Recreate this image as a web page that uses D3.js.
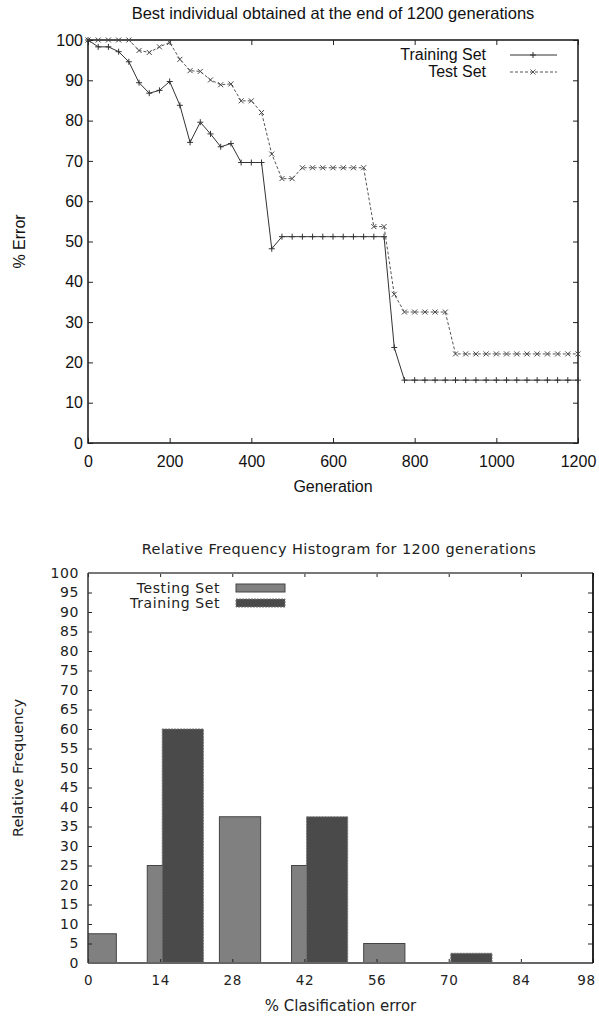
<!DOCTYPE html>
<html>
<head>
<meta charset="utf-8">
<script src="https://cdn.jsdelivr.net/npm/d3@7"></script>
<style>
  body { margin: 0; background: #fff; }
  svg { display: block; }
  .top text { font-family: "Liberation Sans", Arial, sans-serif; fill: #111; }
  .bottom text { font-family: "DejaVu Sans", sans-serif; fill: #222; }
  .axis path.domain { display: none; }
  .axis line { stroke: #222; }
</style>
</head>
<body>
<div id="chart"></div>
<script>

// generations sampled in the run
var generations = [0, 25, 50, 75, 100, 125, 150, 175, 200, 225, 250, 275, 300, 325, 350, 375, 400,
  425, 450, 475, 500, 525, 550, 575, 600, 625, 650, 675, 700, 725, 750, 775, 800, 825, 850, 875,
  900, 925, 950, 975, 1000, 1025, 1050, 1075, 1100, 1125, 1150, 1175, 1200];

var trainingError = [100, 98.3, 98.3, 97.1, 94.6, 89.4, 86.8, 87.5, 89.7, 83.8, 74.6, 79.6, 76.7,
  73.5, 74.3, 69.6, 69.6, 69.6, 48.2, 51.2, 51.2, 51.2, 51.2, 51.2, 51.2, 51.2, 51.2, 51.2, 51.2,
  51.2, 23.7, 15.6, 15.6, 15.6, 15.6, 15.6, 15.6, 15.6, 15.6, 15.6, 15.6, 15.6, 15.6, 15.6, 15.6,
  15.6, 15.6, 15.6, 15.6];

var testError = [100, 100, 100, 100, 100, 97.4, 96.9, 98.3, 99.4, 95.2, 92.4, 92.2, 90.1, 88.9,
  89.1, 84.9, 84.9, 82.0, 71.7, 65.6, 65.6, 68.3, 68.3, 68.3, 68.3, 68.3, 68.3, 68.3, 53.7, 53.7,
  36.9, 32.5, 32.5, 32.5, 32.5, 32.5, 22.1, 22.1, 22.1, 22.1, 22.1, 22.1, 22.1, 22.1, 22.1, 22.1,
  22.1, 22.1, 22.1];

var genTicks = [0, 200, 400, 600, 800, 1000, 1200];
var errorTicks = [0, 10, 20, 30, 40, 50, 60, 70, 80, 90, 100];

// histogram bins (% classification error)
var bins = [0, 14, 28, 42, 56, 70, 84, 98];
var testingFreq = [7.5, 25, 37.5, 25, 5, 0, 0, 0];
var trainingFreq = [0, 60, 0, 37.5, 0, 2.5, 0, 0];
var freqTicks = [0, 5, 10, 15, 20, 25, 30, 35, 40, 45, 50, 55, 60, 65, 70, 75, 80, 85, 90, 95, 100];

var svg = d3.select("#chart").append("svg")
    .attr("width", 599)
    .attr("height", 1016);

makeLineChart();
makeHistogram();

function makeLineChart(){
  var left = 88, right = 578, top = 40, bottom = 443;

  var g = svg.append("g").attr("class", "top");

  var x = d3.scaleLinear().domain([0, 1200]).range([left, right]);
  var y = d3.scaleLinear().domain([0, 100]).range([bottom, top]);

  g.append("text")
      .attr("x", (left + right) / 2)
      .attr("y", 19)
      .attr("text-anchor", "middle")
      .style("font-size", "16.5px")
      .text("Best individual obtained at the end of 1200 generations");

  // ticks point inwards on all four sides
  g.append("g")
      .attr("class", "axis")
      .attr("transform", "translate(0," + bottom + ")")
      .call(d3.axisBottom(x).tickValues(genTicks).tickSize(-5).tickPadding(13).tickFormat(d3.format("d")))
      .selectAll("text").style("font-size", "16px");

  g.append("g")
      .attr("class", "axis")
      .attr("transform", "translate(0," + top + ")")
      .call(d3.axisTop(x).tickValues(genTicks).tickSize(-5).tickFormat(""));

  g.append("g")
      .attr("class", "axis")
      .attr("transform", "translate(" + left + ",0)")
      .call(d3.axisLeft(y).tickValues(errorTicks).tickSize(-5).tickPadding(5))
      .selectAll("text").style("font-size", "16px");

  g.append("g")
      .attr("class", "axis")
      .attr("transform", "translate(" + right + ",0)")
      .call(d3.axisRight(y).tickValues(errorTicks).tickSize(-5).tickFormat(""));

  g.selectAll(".axis text").attr("font-family", null).style("fill", "#111");

  g.append("rect")
      .attr("x", left)
      .attr("y", top)
      .attr("width", right - left)
      .attr("height", bottom - top)
      .attr("fill", "none")
      .attr("stroke", "#222")
      .attr("stroke-width", 1.6);

  g.append("text")
      .attr("transform", "translate(25," + ((top + bottom) / 2) + ") rotate(-90)")
      .attr("text-anchor", "middle")
      .style("font-size", "16px")
      .text("% Error");

  g.append("text")
      .attr("x", (left + right) / 2)
      .attr("y", 492)
      .attr("text-anchor", "middle")
      .style("font-size", "16px")
      .text("Generation");

  var line = d3.line()
      .x(function(d, i){ return x(generations[i]); })
      .y(function(d){ return y(d); });

  g.append("path")
      .datum(testError)
      .attr("d", line)
      .attr("fill", "none")
      .attr("stroke", "#555")
      .attr("stroke-width", 1)
      .attr("stroke-dasharray", "3,2");

  g.append("path")
      .datum(trainingError)
      .attr("d", line)
      .attr("fill", "none")
      .attr("stroke", "#333")
      .attr("stroke-width", 1);

  // markers
  g.selectAll(".cross")
      .data(testError)
    .enter().append("path")
      .attr("class", "cross")
      .attr("transform", function(d, i){ return "translate(" + x(generations[i]) + "," + y(d) + ")"; })
      .attr("d", "M-2.5,-2.5L2.5,2.5M-2.5,2.5L2.5,-2.5")
      .attr("stroke", "#444")
      .attr("stroke-width", 1);

  g.selectAll(".plus")
      .data(trainingError)
    .enter().append("path")
      .attr("class", "plus")
      .attr("transform", function(d, i){ return "translate(" + x(generations[i]) + "," + y(d) + ")"; })
      .attr("d", "M-3,0L3,0M0,-3L0,3")
      .attr("stroke", "#333")
      .attr("stroke-width", 1);

  // legend
  var legend = [
    {name: "Training Set", yy: 55, dash: null, marker: "M-3,0L3,0M0,-3L0,3", color: "#333"},
    {name: "Test Set", yy: 72, dash: "3,2", marker: "M-2.5,-2.5L2.5,2.5M-2.5,2.5L2.5,-2.5", color: "#555"}
  ];

  var lg = g.selectAll(".legend")
      .data(legend)
    .enter().append("g")
      .attr("class", "legend");

  lg.append("text")
      .attr("x", 486)
      .attr("y", function(d){ return d.yy + 5; })
      .attr("text-anchor", "end")
      .style("font-size", "16px")
      .text(function(d){ return d.name; });

  lg.append("line")
      .attr("x1", 510)
      .attr("x2", 557)
      .attr("y1", function(d){ return d.yy; })
      .attr("y2", function(d){ return d.yy; })
      .attr("stroke", function(d){ return d.color; })
      .attr("stroke-dasharray", function(d){ return d.dash; });

  lg.append("path")
      .attr("transform", function(d){ return "translate(533," + d.yy + ")"; })
      .attr("d", function(d){ return d.marker; })
      .attr("stroke", function(d){ return d.color; });
};

function makeHistogram(){
  var left = 88, right = 593, top = 573, bottom = 963;

  var g = svg.append("g").attr("class", "bottom");

  var x = d3.scaleLinear().domain([0, 98]).range([left, right]);
  var y = d3.scaleLinear().domain([0, 100]).range([bottom, top]);

  g.append("text")
      .attr("x", 339)
      .attr("y", 554)
      .attr("text-anchor", "middle")
      .style("font-size", "14.5px")
      .style("letter-spacing", "0.4px")
      .text("Relative Frequency Histogram for 1200 generations");

  g.append("defs").append("clipPath")
      .attr("id", "plotclip")
    .append("rect")
      .attr("x", left)
      .attr("y", top)
      .attr("width", right - left)
      .attr("height", bottom - top);

  var bars = g.append("g").attr("clip-path", "url(#plotclip)");

  // testing bars sit a bit left of the bin, training bars to the right
  bars.selectAll(".testing")
      .data(bins.filter(function(d, i){ return testingFreq[i] > 0; }))
    .enter().append("rect")
      .attr("class", "testing")
      .attr("x", function(d){ return x(d - 2.5); })
      .attr("width", x(8) - x(0))
      .attr("y", function(d){ return y(testingFreq[bins.indexOf(d)]); })
      .attr("height", function(d){ return bottom - y(testingFreq[bins.indexOf(d)]); })
      .attr("fill", "#808080")
      .attr("stroke", "#444")
      .attr("stroke-width", 1);

  bars.selectAll(".training")
      .data(bins.filter(function(d, i){ return trainingFreq[i] > 0; }))
    .enter().append("rect")
      .attr("class", "training")
      .attr("x", function(d){ return x(d + 0.4); })
      .attr("width", x(8) - x(0))
      .attr("y", function(d){ return y(trainingFreq[bins.indexOf(d)]); })
      .attr("height", function(d){ return bottom - y(trainingFreq[bins.indexOf(d)]); })
      .attr("fill", "#4a4a4a")
      .attr("stroke", "#777")
      .attr("stroke-width", 1)
      .attr("stroke-dasharray", "2,1");

  var xAxisG = g.append("g")
      .attr("class", "axis")
      .attr("transform", "translate(0," + bottom + ")")
      .call(d3.axisBottom(x).tickValues(bins).tickSize(-4).tickPadding(12));

  xAxisG.selectAll("text").style("font-size", "13.5px").style("letter-spacing", "0.6px");
  // the last label sits a little inside the edge
  xAxisG.selectAll(".tick").filter(function(d){ return d === 98; })
      .select("text").attr("dx", -7);

  g.append("g")
      .attr("class", "axis")
      .attr("transform", "translate(0," + top + ")")
      .call(d3.axisTop(x).tickValues(bins).tickSize(-4).tickFormat(""));

  g.append("g")
      .attr("class", "axis")
      .attr("transform", "translate(" + left + ",0)")
      .call(d3.axisLeft(y).tickValues(freqTicks).tickSize(-4).tickPadding(9))
      .selectAll("text").style("font-size", "14px").style("letter-spacing", "0.6px");

  g.append("g")
      .attr("class", "axis")
      .attr("transform", "translate(" + right + ",0)")
      .call(d3.axisRight(y).tickValues(freqTicks).tickSize(-5).tickFormat(""));

  g.selectAll(".axis text").attr("font-family", null).style("fill", "#222");

  // frame: top/bottom lighter than the sides
  g.append("line")
      .attr("x1", left).attr("x2", right).attr("y1", top).attr("y2", top)
      .attr("stroke", "#777").attr("stroke-width", 2);
  g.append("line")
      .attr("x1", left).attr("x2", right).attr("y1", bottom).attr("y2", bottom)
      .attr("stroke", "#666").attr("stroke-width", 2);
  g.append("line")
      .attr("x1", left).attr("x2", left).attr("y1", top).attr("y2", bottom)
      .attr("stroke", "#333").attr("stroke-width", 1.5);
  g.append("line")
      .attr("x1", right).attr("x2", right).attr("y1", top).attr("y2", bottom)
      .attr("stroke", "#111").attr("stroke-width", 1.8);

  g.append("text")
      .attr("transform", "translate(23," + ((top + bottom) / 2) + ") rotate(-90)")
      .attr("text-anchor", "middle")
      .style("font-size", "14.5px")
      .text("Relative Frequency");

  g.append("text")
      .attr("x", (left + right) / 2)
      .attr("y", 1011)
      .attr("text-anchor", "middle")
      .style("font-size", "15px")
      .text("% Clasification error");

  // legend
  var legend = [
    {name: "Testing Set", yy: 588, fill: "#808080", stroke: "#444", dash: null},
    {name: "Training Set", yy: 603, fill: "#4a4a4a", stroke: "#777", dash: "2,1"}
  ];

  var lg = g.selectAll(".legend")
      .data(legend)
    .enter().append("g")
      .attr("class", "legend");

  lg.append("text")
      .attr("x", 220)
      .attr("y", function(d){ return d.yy + 5; })
      .attr("text-anchor", "end")
      .style("font-size", "14px")
      .style("letter-spacing", "0.6px")
      .text(function(d){ return d.name; });

  lg.append("rect")
      .attr("x", 236)
      .attr("y", function(d){ return d.yy - 4; })
      .attr("width", 49)
      .attr("height", 8)
      .attr("fill", function(d){ return d.fill; })
      .attr("stroke", function(d){ return d.stroke; })
      .attr("stroke-dasharray", function(d){ return d.dash; });
};

</script>
</body>
</html>
